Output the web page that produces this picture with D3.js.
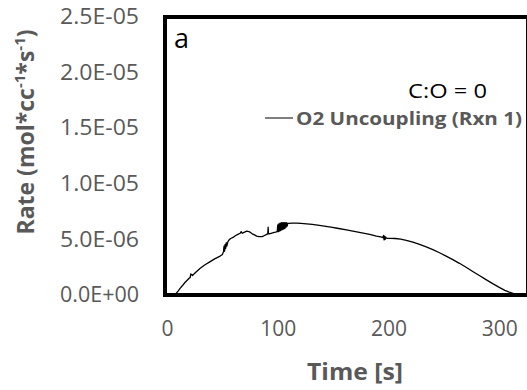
<!DOCTYPE html>
<html>
<head>
<meta charset="utf-8">
<script src="https://cdn.jsdelivr.net/npm/d3@7"></script>
<style>
  html, body { margin: 0; padding: 0; background: #fff; }
  svg { display: block; font-family: "Open Sans", sans-serif; }
</style>
</head>
<body>
<div id="chart"></div>
<script>
// Time [s]
const timeS = [
  7, 10, 12, 14, 16, 18, 20, 21, 21.5, 23, 26, 30, 34, 39, 43, 48, 50,
  51, 51.5, 52, 52.5, 53, 53.5, 54, 55, 56, 57, 58, 60, 62, 64, 66, 67, 68, 70, 72, 74, 75,
  77, 79, 81, 83, 86, 88, 90, 91, 91.3, 91.6, 92, 94, 96, 98, 99.5,
  100, 100.5, 101, 101.5, 102, 102.5, 103, 103.5, 104, 104.5, 105, 105.5, 106, 106.5, 107, 107.5, 108, 108.5, 109,
  110, 113, 117, 121, 126, 131, 136, 142, 148, 155, 162, 169, 176, 183, 189, 193,
  195, 195.5, 196, 196.5, 197, 197.5, 198, 199, 202, 206, 211, 216, 222, 228,
  234, 240, 246, 252, 258, 264, 270, 276, 282, 288, 294, 300, 305, 309, 313, 316, 319
];
// Rate (mol*cc^-1*s^-1)
const rate = [
  0, 0.35e-6, 0.62e-6, 0.85e-6, 1.1e-6, 1.3e-6, 1.5e-6, 1.6e-6, 1.9e-6, 1.75e-6, 2.05e-6, 2.4e-6, 2.7e-6, 3.0e-6, 3.25e-6, 3.5e-6, 3.65e-6,
  3.9e-6, 4.4e-6, 3.95e-6, 4.55e-6, 4.2e-6, 4.7e-6, 4.4e-6, 4.8e-6, 4.95e-6, 5.05e-6, 5.1e-6, 5.2e-6, 5.35e-6, 5.45e-6, 5.55e-6, 5.7e-6, 5.55e-6, 5.65e-6, 5.75e-6, 5.7e-6, 5.65e-6,
  5.5e-6, 5.4e-6, 5.3e-6, 5.25e-6, 5.25e-6, 5.35e-6, 5.45e-6, 5.5e-6, 6.1e-6, 5.5e-6, 5.5e-6, 5.55e-6, 5.6e-6, 5.65e-6, 5.7e-6,
  6.3e-6, 5.7e-6, 6.4e-6, 5.75e-6, 6.45e-6, 5.8e-6, 6.5e-6, 5.85e-6, 6.5e-6, 5.9e-6, 6.5e-6, 5.95e-6, 6.5e-6, 6.0e-6, 6.5e-6, 6.1e-6, 6.5e-6, 6.2e-6, 6.45e-6,
  6.45e-6, 6.47e-6, 6.47e-6, 6.45e-6, 6.4e-6, 6.35e-6, 6.28e-6, 6.2e-6, 6.1e-6, 5.98e-6, 5.85e-6, 5.72e-6, 5.58e-6, 5.45e-6, 5.3e-6, 5.22e-6,
  5.15e-6, 5.35e-6, 4.95e-6, 5.3e-6, 5.0e-6, 5.2e-6, 5.12e-6, 5.1e-6, 5.1e-6, 5.08e-6, 5.02e-6, 4.92e-6, 4.75e-6, 4.55e-6,
  4.32e-6, 4.08e-6, 3.8e-6, 3.5e-6, 3.18e-6, 2.85e-6, 2.5e-6, 2.12e-6, 1.75e-6, 1.38e-6, 1.02e-6, 0.68e-6, 0.42e-6, 0.25e-6, 0.12e-6, 0.05e-6, 0
];

const xTicks = [0, 100, 200, 300];
const yTicks = [0, 5e-6, 1e-5, 1.5e-5, 2e-5, 2.5e-5];
const yTickLabels = ["0.0E+00", "5.0E-06", "1.0E-05", "1.5E-05", "2.0E-05", "2.5E-05"];

const W = 527, H = 390;
const plot = { left: 165, right: 528, top: 17, bottom: 295 };
const grey = "#595959";

const svg = d3.select("#chart").append("svg")
  .attr("width", W)
  .attr("height", H);

const x = d3.scaleLinear().domain([0, 325]).range([167, 527]);
const y = d3.scaleLinear().domain([0, 2.5e-5]).range([plot.bottom, plot.top]);

// Y axis
const yAxis = svg.append("g")
  .attr("transform", `translate(${plot.left},0)`)
  .call(d3.axisLeft(y).tickValues(yTicks).tickSize(0).tickPadding(26)
    .tickFormat((d, i) => yTickLabels[i]));
yAxis.select(".domain").remove();
yAxis.selectAll("text")
  .attr("font-family", "Open Sans, sans-serif")
  .attr("font-size", "21px")
  .attr("fill", grey)
  .attr("textLength", 79)
  .attr("lengthAdjust", "spacingAndGlyphs");

// X axis
const xAxis = svg.append("g")
  .attr("transform", `translate(0,${plot.bottom})`)
  .call(d3.axisBottom(x).tickValues(xTicks).tickSize(0).tickPadding(26));
xAxis.select(".domain").remove();
xAxis.selectAll("text")
  .attr("font-family", "Open Sans, sans-serif")
  .attr("font-size", "21px")
  .attr("fill", grey);

// curve
const pts = timeS.map((t, i) => [t, rate[i]]);
svg.append("path")
  .datum(pts)
  .attr("fill", "none")
  .attr("stroke", "#000")
  .attr("stroke-width", 1.3)
  .attr("stroke-linejoin", "round")
  .attr("d", d3.line().x(d => x(d[0])).y(d => y(d[1])));

// frame
svg.append("rect")
  .attr("x", plot.left)
  .attr("y", plot.top)
  .attr("width", plot.right - plot.left)
  .attr("height", plot.bottom - plot.top)
  .attr("fill", "none")
  .attr("stroke", "#000")
  .attr("stroke-width", 4);

// panel letter + annotation
svg.append("text")
  .attr("x", 174).attr("y", 48)
  .attr("font-size", "27px")
  .attr("fill", "#000")
  .text("a");

svg.append("text")
  .attr("x", 408).attr("y", 98)
  .attr("font-size", "20px")
  .attr("fill", "#000")
  .attr("textLength", 79)
  .attr("lengthAdjust", "spacingAndGlyphs")
  .text("C:O = 0");

// legend
svg.append("line")
  .attr("x1", 265).attr("x2", 293)
  .attr("y1", 118).attr("y2", 118)
  .attr("stroke", "#000")
  .attr("stroke-width", 1);
svg.append("text")
  .attr("x", 296).attr("y", 125)
  .attr("font-size", "18.5px")
  .attr("font-weight", "bold")
  .attr("fill", grey)
  .attr("textLength", 226)
  .attr("lengthAdjust", "spacingAndGlyphs")
  .text("O2 Uncoupling (Rxn 1)");

// axis titles
svg.append("text")
  .attr("x", 355).attr("y", 380)
  .attr("text-anchor", "middle")
  .attr("font-size", "23px")
  .attr("font-weight", "bold")
  .attr("fill", grey)
  .attr("textLength", 96)
  .attr("lengthAdjust", "spacingAndGlyphs")
  .text("Time [s]");

const yt = svg.append("text")
  .attr("transform", "translate(34,132) rotate(-90)")
  .attr("text-anchor", "middle")
  .attr("font-size", "23px")
  .attr("font-weight", "bold")
  .attr("fill", grey);
yt.append("tspan").text("Rate (mol*cc");
yt.append("tspan").attr("dy", -9).attr("font-size", "15px").text("-1");
yt.append("tspan").attr("dy", 9).text("*s");
yt.append("tspan").attr("dy", -9).attr("font-size", "15px").text("-1");
yt.append("tspan").attr("dy", 9).text(")");
</script>
</body>
</html>
